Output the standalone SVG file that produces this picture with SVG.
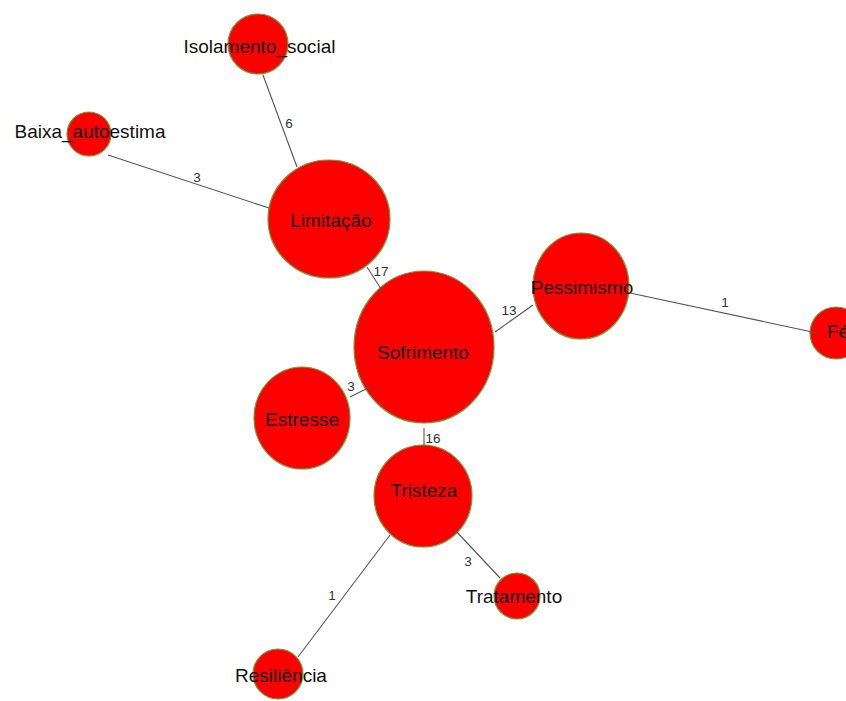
<svg xmlns="http://www.w3.org/2000/svg" width="846" height="701" viewBox="0 0 846 701">
  <style>
    .node { fill: #ff0000; stroke: #6e9b3c; stroke-width: 1.2; }
    .lbl { font-family: "Liberation Sans", Arial, sans-serif; font-size: 19px; fill: #111; text-anchor: middle; }
    .edge { stroke: #555; stroke-width: 1.1; fill: none; }
    .w { font-family: "Liberation Sans", Arial, sans-serif; font-size: 13.5px; fill: #333; text-anchor: middle; }
  </style>
  <rect width="846" height="701" fill="#ffffff"/>

  <!-- nodes -->
  <g id="node-isolamento">
    <circle class="node" cx="258" cy="44" r="30"/>
    <text class="lbl" x="259.5" y="53">Isolamento_social</text>
  </g>
  <g id="node-baixa">
    <circle class="node" cx="89" cy="134" r="22"/>
    <text class="lbl" x="90" y="138">Baixa_autoestima</text>
  </g>
  <g id="node-limitacao">
    <ellipse class="node" cx="329" cy="219" rx="61" ry="59"/>
    <text class="lbl" x="331" y="227">Limitação</text>
  </g>
  <g id="node-sofrimento">
    <ellipse class="node" cx="424" cy="347" rx="70" ry="76"/>
    <text class="lbl" x="423" y="359">Sofrimento</text>
  </g>
  <g id="node-pessimismo">
    <ellipse class="node" cx="581" cy="286" rx="48" ry="53"/>
    <text class="lbl" x="582" y="294">Pessimismo</text>
  </g>
  <g id="node-fe">
    <circle class="node" cx="836" cy="333" r="26"/>
    <text class="lbl" x="827" y="338" style="text-anchor:start">Fé</text>
  </g>
  <g id="node-estresse">
    <ellipse class="node" cx="302" cy="418" rx="48" ry="51"/>
    <text class="lbl" x="302" y="426">Estresse</text>
  </g>
  <g id="node-tristeza">
    <ellipse class="node" cx="423" cy="496" rx="49" ry="51"/>
    <text class="lbl" x="424" y="497">Tristeza</text>
  </g>
  <g id="node-tratamento">
    <circle class="node" cx="517" cy="596" r="23"/>
    <text class="lbl" x="514" y="603">Tratamento</text>
  </g>
  <g id="node-resiliencia">
    <circle class="node" cx="278" cy="674" r="25"/>
    <text class="lbl" x="281" y="682">Resiliência</text>
  </g>

  <!-- connectors with weights -->
  <g id="connectors">
    <line class="edge" x1="263" y1="75" x2="297" y2="167"/>
    <text class="w" x="289" y="128">6</text>
    <line class="edge" x1="108" y1="155" x2="269" y2="208"/>
    <text class="w" x="197" y="182">3</text>
    <line class="edge" x1="367" y1="267" x2="383" y2="292"/>
    <text class="w" x="381" y="276">17</text>
    <line class="edge" x1="495" y1="332" x2="533" y2="305"/>
    <text class="w" x="509" y="315">13</text>
    <line class="edge" x1="630" y1="293" x2="817" y2="333"/>
    <text class="w" x="725" y="307">1</text>
    <line class="edge" x1="350" y1="397" x2="370" y2="387"/>
    <text class="w" x="351" y="391">3</text>
    <line class="edge" x1="424" y1="428" x2="424" y2="449"/>
    <text class="w" x="433" y="443">16</text>
    <line class="edge" x1="455" y1="530" x2="500" y2="578"/>
    <text class="w" x="468" y="566">3</text>
    <line class="edge" x1="390" y1="535" x2="298" y2="657"/>
    <text class="w" x="332" y="600">1</text>
  </g>
</svg>
